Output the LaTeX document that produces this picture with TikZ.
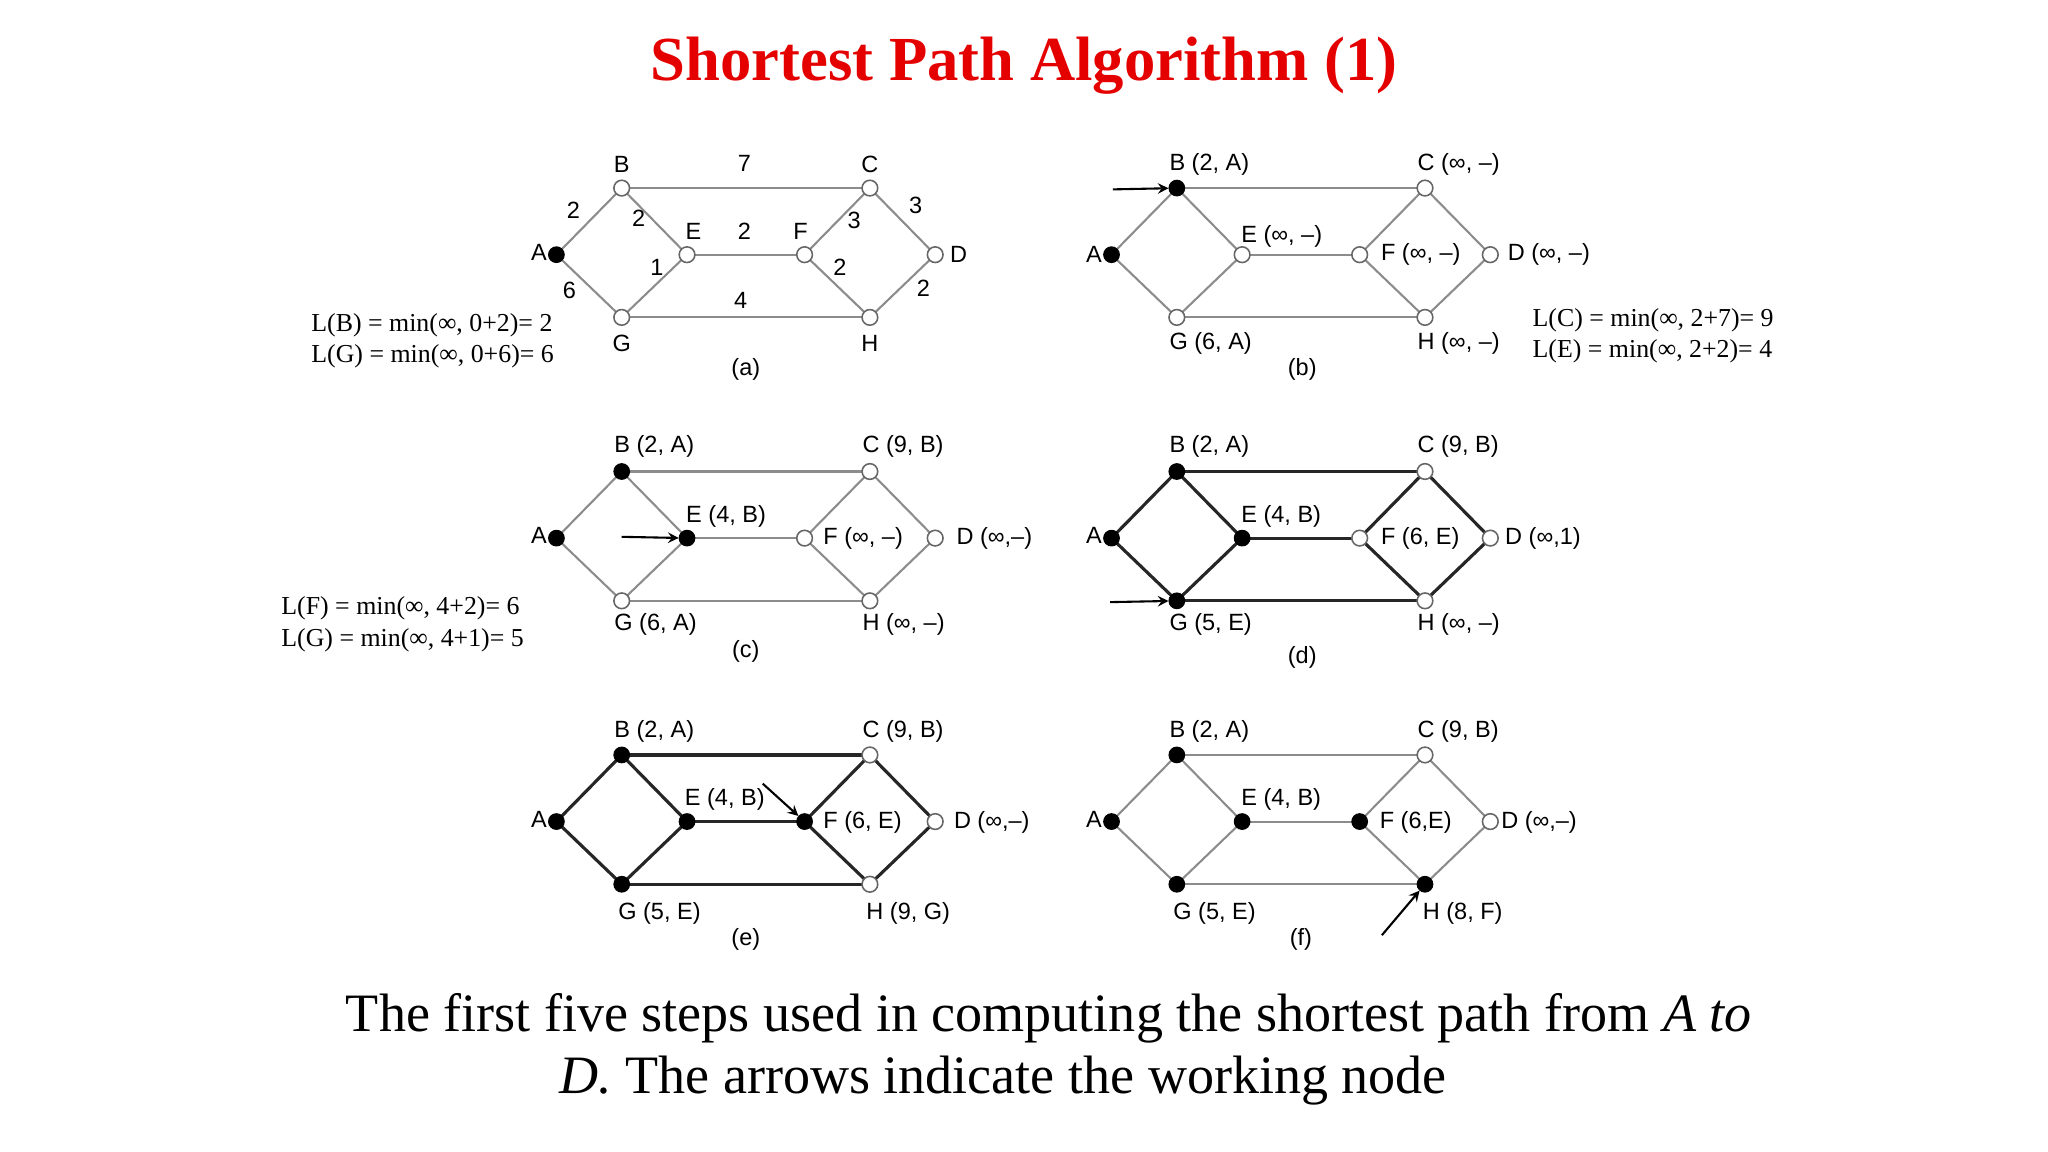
\documentclass[tikz,border=0pt]{standalone}
\usepackage{fontspec}
\setmainfont{Liberation Serif}
\newfontfamily\lab{Liberation Sans}
\begin{document}
\begin{tikzpicture}[x=0.5pt,y=-0.5pt,
  vtx/.style={circle,inner sep=0pt,minimum size=6pt,draw=black!60,fill=white,line width=0.6pt},
  vfill/.style={circle,inner sep=0pt,minimum size=6pt,draw=black,fill=black},
  lt/.style={draw=black!45,line width=0.8pt},
  dk/.style={draw=black!85,line width=1.2pt},
  lb/.style={font=\lab\fontsize{9}{10}\selectfont,inner sep=0pt},
  wt/.style={font=\lab\fontsize{9}{10}\selectfont,inner sep=0pt},
  fm/.style={font=\fontsize{9.9}{12}\selectfont,anchor=west,inner sep=0pt,align=left},
  arr/.style={-stealth,line width=0.8pt}]
\useasboundingbox (0,0) rectangle (1568,882);
\newcommand\mkpanel[3]{%
 \begin{scope}[shift={(#2,#3)}]
  \foreach \n/\x/\y in {A/426/195,B/476/144,C/666/144,D/716/195,E/526/195,F/616/195,G/476/243,H/666/243}
   \coordinate (#1\n) at (\x,\y);
 \end{scope}}
\newcommand\edges[2]{%
 \foreach \u/\v in {A/B,A/G,B/E,B/C,E/F,G/E,G/H,F/C,F/H,C/D,H/D} \path[#2] (#1\u) -- (#1\v);}
\newcommand\verts[2]{%
 \foreach \n in {A,B,C,D,E,F,G,H}{%
   \edef\isf{0}%
   \foreach \m in {#2}{\ifx\n\m\xdef\isf{1}\fi}%
   \if1\isf \node[vfill] (#1\n v) at (#1\n) {};\else \node[vtx] (#1\n v) at (#1\n) {};\fi}}
% (a)
\mkpanel{a}{0}{0}\edges{a}{lt}\verts{a}{A}
\node[lb] at (476,126) {B}; \node[lb] at (666,126) {C}; \node[lb] at (531,177) {E};
\node[lb] at (613,177) {F}; \node[lb,anchor=east] at (419,193) {A}; \node[lb,anchor=west] at (727,195) {D};
\node[lb] at (476,263) {G}; \node[lb] at (666,263) {H}; \node[lb] at (571,283) {(a)};
\foreach \t/\x/\y in {7/570/125,2/439/161,2/489/167,2/570/177,3/654/169,3/701/157,1/503/205,6/436/222,4/567/230,2/643/205,2/707/221}
  \node[wt] at (\x,\y) {\t};
\node[fm] at (238,261) {L(B) = min(∞, 0+2)= 2\\L(G) = min(∞, 0+6)= 6};
% (b)
\mkpanel{b}{425}{0}\edges{b}{lt}\verts{b}{A,B}
\node[lb,anchor=east] at (844,195) {A};
\node[lb,anchor=west] at (895,126) {B (2, A)}; \node[lb,anchor=west] at (1085,126) {C (∞, –)};
\node[lb,anchor=west] at (950,181) {E (∞, –)}; \node[lb,anchor=west] at (1057,195) {F (∞, –)};
\node[lb,anchor=west] at (1154,195) {D (∞, –)}; \node[lb,anchor=west] at (895,263) {G (6, A)};
\node[lb,anchor=west] at (1085,263) {H (∞, –)}; \node[lb] at (997,283) {(b)};
\coordinate (bar) at (852,145); \draw[arr] (bar) -- (bBv);
\node[fm] at (1173,257) {L(C) = min(∞, 2+7)= 9\\L(E) = min(∞, 2+2)= 4};
% (c)
\mkpanel{c}{0}{217}\edges{c}{lt}\verts{c}{A,B,E}
\node[lb,anchor=east] at (419,410) {A};
\node[lb,anchor=west] at (470,342) {B (2, A)}; \node[lb,anchor=west] at (660,342) {C (9, B)};
\node[lb,anchor=west] at (525,395) {E (4, B)}; \node[lb,anchor=west] at (630,412) {F (∞, –)};
\node[lb,anchor=west] at (732,412) {D (∞,–)}; \node[lb,anchor=west] at (470,478) {G (6, A)};
\node[lb,anchor=west] at (660,478) {H (∞, –)}; \node[lb] at (571,499) {(c)};
\coordinate (car) at (476,411); \draw[arr] (car) -- (cEv);
\node[fm] at (215,478) {L(F) = min(∞, 4+2)= 6\\L(G) = min(∞, 4+1)= 5};
% (d)
\mkpanel{d}{425}{217}\edges{d}{dk}\verts{d}{A,B,E,G}
\node[lb,anchor=east] at (844,410) {A};
\node[lb,anchor=west] at (895,342) {B (2, A)}; \node[lb,anchor=west] at (1085,342) {C (9, B)};
\node[lb,anchor=west] at (950,395) {E (4, B)}; \node[lb,anchor=west] at (1057,412) {F (6, E)};
\node[lb,anchor=west] at (1152,412) {D (∞,1)}; \node[lb,anchor=west] at (895,478) {G (5, E)};
\node[lb,anchor=west] at (1085,478) {H (∞, –)}; \node[lb] at (997,503) {(d)};
\coordinate (dar) at (850,461); \draw[arr] (dar) -- (dGv);
% (e)
\mkpanel{e}{0}{434}\edges{e}{dk}\verts{e}{A,B,E,G,F}
\node[lb,anchor=east] at (419,627) {A};
\node[lb,anchor=west] at (470,560) {B (2, A)}; \node[lb,anchor=west] at (660,560) {C (9, B)};
\node[lb,anchor=west] at (524,612) {E (4, B)}; \node[lb,anchor=west] at (630,630) {F (6, E)};
\node[lb,anchor=west] at (730,630) {D (∞,–)}; \node[lb,anchor=west] at (473,699) {G (5, E)};
\node[lb,anchor=west] at (663,699) {H (9, G)}; \node[lb] at (571,719) {(e)};
\coordinate (ear) at (584,600); \draw[arr] (ear) -- (eFv);
% (f)
\mkpanel{f}{425}{434}\edges{f}{lt}\verts{f}{A,B,E,G,F,H}
\node[lb,anchor=east] at (844,627) {A};
\node[lb,anchor=west] at (895,560) {B (2, A)}; \node[lb,anchor=west] at (1085,560) {C (9, B)};
\node[lb,anchor=west] at (950,612) {E (4, B)}; \node[lb,anchor=west] at (1056,630) {F (6,E)};
\node[lb,anchor=west] at (1149,630) {D (∞,–)}; \node[lb,anchor=west] at (898,699) {G (5, E)};
\node[lb,anchor=west] at (1089,699) {H (8, F)}; \node[lb] at (996,719) {(f)};
\coordinate (far) at (1058,716); \draw[arr] (far) -- (fHv);
% title and caption
\node[font=\bfseries\fontsize{24}{28}\selectfont,text=red!90!black] (title) at (784,50) {Shortest Path Algorithm (1)};
\node[font=\fontsize{20.7}{24}\selectfont] (cap1) at (803,780) {The first five steps used in computing the shortest path from \textit{A to}};
\node[font=\fontsize{20.7}{24}\selectfont] (cap2) at (768,827) {\textit{D.} The arrows indicate the working node};
\end{tikzpicture}
\end{document}
